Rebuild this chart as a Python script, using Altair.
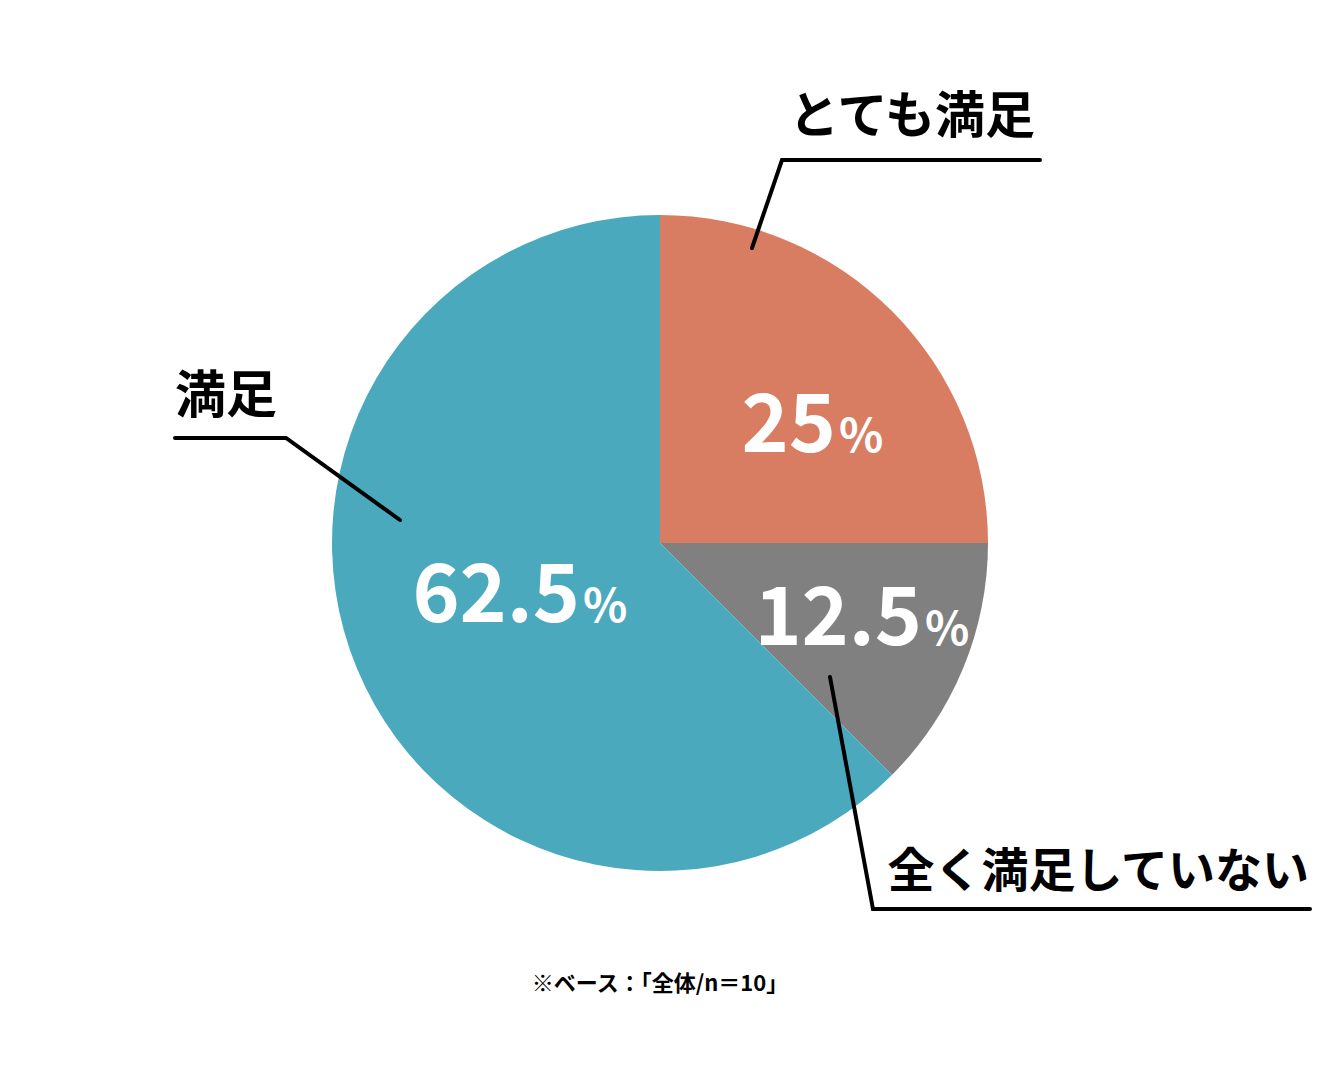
import altair as alt
import pandas as pd

# ---- data ----
categories = ["とても満足", "全く満足していない", "満足"]
shares = [25, 12.5, 62.5]
colors = ["#D97D62", "#808080", "#4BA9BE"]
value_labels = ["25", "12.5", "62.5"]
footnote = "※ベース：「全体/n＝10」"

# ---- layout (page pixels) ----
W, H, M = 1304, 1064, 8
CX, CY, R = 660, 543, 328
num_x = [836, 922, 580]
num_y = [452, 645, 622]
cat_x = [1035, 1309, 175]
cat_y = [118, 873, 398]
cat_size = [50, 47, 51]
cat_align = ["right", "right", "left"]
leader_pts = [
    [(752, 248), (782, 160), (1040, 160)],
    [(830, 677), (873, 909), (1310, 909)],
    [(400, 520), (286, 438), (175, 438)],
]

pie_df = pd.DataFrame({"category": categories, "share": shares, "idx": range(len(categories))})
num_df = pd.DataFrame({"label": value_labels, "x": num_x, "y": num_y})
pct_df = pd.DataFrame({"label": ["%"] * 3, "x": [v + 3 for v in num_x], "y": num_y})
cat_df = pd.DataFrame({"label": categories, "x": cat_x, "y": cat_y, "align": cat_align, "size": cat_size})
line_rows = []
for g, pts in enumerate(leader_pts):
    for s, (px, py) in enumerate(pts):
        line_rows.append({"grp": g, "seq": s, "x": px, "y": py})
line_df = pd.DataFrame(line_rows)
foot_df = pd.DataFrame({"label": [footnote], "x": [660], "y": [984]})

xs = alt.Scale(domain=[M, M + W], nice=False, zero=False)
ys = alt.Scale(domain=[M, M + H], nice=False, zero=False, reverse=True)
X = lambda: alt.X("x:Q", scale=xs, axis=None)
Y = lambda: alt.Y("y:Q", scale=ys, axis=None)

FONT = "Noto Sans CJK JP"

pie = alt.Chart(pie_df).mark_arc(outerRadius=R).encode(
    theta=alt.Theta("share:Q", stack=True),
    color=alt.Color("category:N", scale=alt.Scale(domain=categories, range=colors), legend=None),
    order=alt.Order("idx:Q"),
    x=alt.value(CX - M),
    y=alt.value(CY - M),
)

nums = alt.Chart(num_df).mark_text(
    font=FONT, fontSize=80, fontWeight="bold", color="white", align="right", baseline="alphabetic"
).encode(x=X(), y=Y(), text="label:N")

pcts = alt.Chart(pct_df).mark_text(
    font=FONT, fontSize=46, fontWeight="bold", color="white", align="left", baseline="alphabetic"
).encode(x=X(), y=Y(), text="label:N")

cat_layers = []
for i in range(len(categories)):
    cat_layers.append(
        alt.Chart(cat_df.iloc[[i]]).mark_text(
            font=FONT, fontSize=cat_size[i], fontWeight="bold", color="black",
            align=cat_align[i], baseline="middle"
        ).encode(x=X(), y=Y(), text="label:N")
    )

lines = alt.Chart(line_df).mark_line(
    color="black", strokeWidth=4, strokeJoin="miter", strokeCap="round"
).encode(x=X(), y=Y(), detail="grp:N", order="seq:Q")

foot = alt.Chart(foot_df).mark_text(
    font=FONT, fontSize=22, fontWeight="bold", color="black", align="center", baseline="middle"
).encode(x=X(), y=Y(), text="label:N")

chart = alt.layer(pie, lines, nums, pcts, *cat_layers, foot).properties(
    width=W, height=H, padding=0, autosize=alt.AutoSizeParams(type="none"), background="white"
).configure_view(stroke=None)

chart.save("out.html", embed_options={"renderer": "svg", "actions": False})
